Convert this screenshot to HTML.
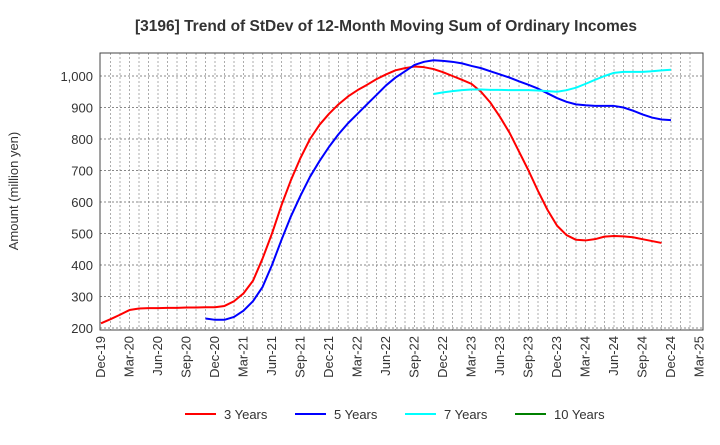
<!DOCTYPE html>
<html><head><meta charset="utf-8"><style>
body{margin:0;background:#fff;font-family:"Liberation Sans",sans-serif}
</style></head><body>
<svg width="720" height="440" xmlns="http://www.w3.org/2000/svg" id="svg" font-family="Liberation Sans, sans-serif">
<text x="386" y="31" text-anchor="middle" font-size="15.5" font-weight="bold" fill="#333">[3196]  Trend of StDev of 12-Month Moving Sum of Ordinary Incomes</text>
<text transform="translate(18,191) rotate(-90)" text-anchor="middle" font-size="13" fill="#333">Amount (million yen)</text>
<g id="grid"></g><g id="series"></g><g id="axes"></g><g id="legend"></g>
</svg>
<script>
const xLabels=["Dec-19","Mar-20","Jun-20","Sep-20","Dec-20","Mar-21","Jun-21","Sep-21","Dec-21","Mar-22","Jun-22","Sep-22","Dec-22","Mar-23","Jun-23","Sep-23","Dec-23","Mar-24","Jun-24","Sep-24","Dec-24","Mar-25"];
const yTicks=[200,300,400,500,600,700,800,900,1000];
const seriesNames=["3 Years","5 Years","7 Years","10 Years"];
const seriesColors=["#ff0000","#0000ff","#00ffff","#008000"];
const red=[215,228,242,257,262,263,263,264,264,265,265,266,266,270,285,310,350,420,500,590,670,740,800,845,880,910,935,955,972,990,1005,1018,1025,1030,1028,1022,1012,1000,988,975,950,915,870,820,760,700,635,575,525,495,480,478,482,490,492,491,488,482,476,470];
const blueStart=11;
const blue=[230,226,226,235,255,285,330,400,480,555,620,680,730,775,815,850,880,910,940,970,995,1015,1035,1045,1050,1048,1045,1040,1032,1025,1015,1005,995,983,972,960,945,930,918,910,907,905,905,905,900,890,878,868,862,860];
const cyanStart=35;
const cyan=[943,948,952,955,957,957,956,956,955,955,955,954,952,950,955,963,975,988,1000,1010,1013,1013,1013,1015,1018,1020];
const L=100,R=703,T=53,B=330;
const X=i=>101+i*9.5;
const Y=v=>328-(v-200)*0.315;
const NS="http://www.w3.org/2000/svg";
function mk(p,tag,a){const e=document.createElementNS(NS,tag);for(const k in a)e.setAttribute(k,a[k]);p.appendChild(e);return e;}
const grid=document.getElementById('grid'),axes=document.getElementById('axes'),ser=document.getElementById('series'),leg=document.getElementById('legend');
mk(grid,'rect',{x:L,y:T,width:R-L,height:B-T,fill:'#fff'});
for(let i=1;i<63;i++){const g=mk(grid,'line',{x1:X(i),x2:X(i),y1:T,y2:B,stroke:'#999','stroke-dasharray':'2,2','stroke-width':0.8});

}
for(let v=200;v<=1000;v+=100){const g=mk(grid,'line',{x1:L,x2:R,y1:Y(v),y2:Y(v),stroke:'#888','stroke-dasharray':'2,2','stroke-width':0.9});

}
yTicks.forEach(v=>{const t=mk(axes,'text',{x:93,y:Y(v)+5,'text-anchor':'end','font-size':13,fill:'#333'});t.textContent=v.toLocaleString('en-US');

});
xLabels.forEach((s,i)=>{const x=X(i*3);const t=mk(axes,'text',{transform:`translate(${x+4},${B+6}) rotate(-90)`,'text-anchor':'end','font-size':13,fill:'#333'});t.textContent=s;

});
const fr=mk(axes,'rect',{x:L,y:T,width:R-L,height:B-T,fill:'none',stroke:'#444','stroke-width':1});


function line(arr,start,color,name){const pts=arr.map((v,i)=>X(i+start)+','+Y(v)).join(' ');const p=mk(ser,'polyline',{points:pts,fill:'none',stroke:color,'stroke-width':2,'stroke-linejoin':'round'});

}
line(red,0,seriesColors[0],'line-3-years');
line(blue,blueStart,seriesColors[1],'line-5-years');
line(cyan,cyanStart,seriesColors[2],'line-7-years');
const lx=[185,295,405,515];
seriesNames.forEach((n,i)=>{const g=mk(leg,'g',{});


mk(g,'line',{x1:lx[i],x2:lx[i]+31,y1:414,y2:414,stroke:seriesColors[i],'stroke-width':2});
const t=mk(g,'text',{x:lx[i]+39,y:419,'font-size':13,fill:'#333'});t.textContent=n;});
</script>
</body></html>
